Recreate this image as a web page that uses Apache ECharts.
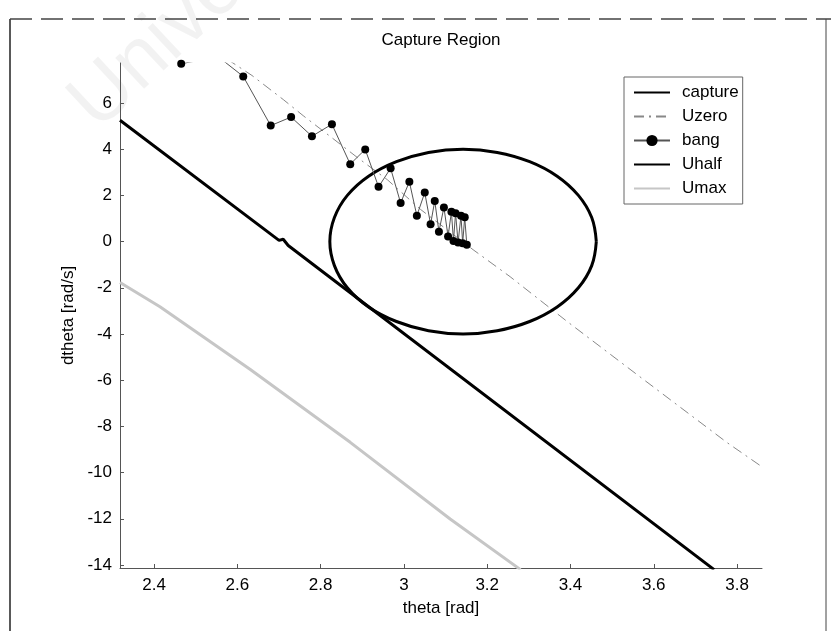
<!DOCTYPE html>
<html>
<head>
<meta charset="utf-8">
<script src="https://cdn.jsdelivr.net/npm/echarts@6/dist/echarts.min.js"></script>
<style>html,body{margin:0;padding:0;background:#fff}#c{width:831px;height:631px}</style>
</head>
<body>
<div id="c"></div>
<script>
const xTicks = [2.4, 2.6, 2.8, 3, 3.2, 3.4, 3.6, 3.8];
const yTicks = [-14, -12, -10, -8, -6, -4, -2, 0, 2, 4, 6];
const captureData = [[3.462,0],[3.451,1.04],[3.419,2.0],[3.368,2.83],[3.302,3.46],[3.224,3.86],[3.142,4.0],[3.059,3.86],[2.982,3.46],[2.915,2.83],[2.864,2.0],[2.833,1.04],[2.822,0],[2.833,-1.04],[2.864,-2.0],[2.915,-2.83],[2.982,-3.46],[3.059,-3.86],[3.142,-4.0],[3.224,-3.86],[3.302,-3.46],[3.368,-2.83],[3.419,-2.0],[3.451,-1.04],[3.462,0]];
const uzeroData = [[2.575,7.9],[2.635,7.19],[2.710,6.15],[2.758,5.45],[2.823,4.55],[2.888,3.64],[2.96,2.68],[3.04,1.39],[3.166,-0.35],[3.255,-1.52],[3.392,-3.46],[3.56,-5.76],[3.776,-8.7],[3.86,-9.75]];
const bangData = [[2.465,7.7],[2.510,7.85],[2.556,7.97],[2.614,7.15],[2.680,5.02],[2.729,5.39],[2.779,4.56],[2.827,5.08],[2.871,3.35],[2.907,3.99],[2.939,2.37],[2.968,3.17],[2.992,1.67],[3.013,2.59],[3.031,1.12],[3.050,2.12],[3.064,0.75],[3.074,1.76],[3.084,0.43],[3.096,1.48],[3.106,0.22],[3.114,1.29],[3.119,0.03],[3.124,1.23],[3.130,-0.04],[3.137,1.12],[3.141,-0.07],[3.146,1.05],[3.151,-0.14]];
const uhalfData = [[2.318,5.25],[2.700,0.05],[2.710,0.1],[2.722,-0.17],[3.745,-14.2]];
const umaxData = [[2.318,-1.77],[2.414,-2.82],[2.631,-5.54],[2.871,-8.69],[3.111,-12.01],[3.28,-14.2]];

const FONT = 'Liberation Sans, Arial, sans-serif';
const chart = echarts.init(document.getElementById('c'), null, {renderer: 'canvas'});
const axisCommon = {
  axisLine: {show: true, onZero: false, lineStyle: {color: '#555', width: 1}},
  axisTick: {show: true, inside: true, length: 4, lineStyle: {color: '#555'}},
  splitLine: {show: false},
  axisLabel: {color: '#000', fontSize: 17, fontFamily: FONT},
  nameTextStyle: {color: '#000', fontSize: 17, fontFamily: FONT}
};
const noSym = {opacity: 0};
chart.setOption({
  animation: false,
  backgroundColor: '#fff',
  grid: {left: 120, right: 69, top: 63, bottom: 63, containLabel: false},
  xAxis: Object.assign({}, axisCommon, {
    type: 'value', min: 2.318, max: 3.86,
    name: 'theta [rad]', nameLocation: 'middle', nameGap: 32,
    axisTick: Object.assign({}, axisCommon.axisTick, {customValues: xTicks}),
    axisLabel: Object.assign({}, axisCommon.axisLabel, {customValues: xTicks, margin: 9, formatter: v => String(v)})
  }),
  yAxis: Object.assign({}, axisCommon, {
    type: 'value', min: -14.13, max: 7.73,
    name: 'dtheta [rad/s]', nameLocation: 'middle', nameGap: 42,
    axisTick: Object.assign({}, axisCommon.axisTick, {customValues: yTicks}),
    axisLabel: Object.assign({}, axisCommon.axisLabel, {customValues: yTicks, margin: 8, formatter: v => String(v)})
  }),
  legend: {
    orient: 'vertical', left: 624, top: 77,
    padding: [7, 4, 7, 9], itemGap: 7, itemWidth: 36, itemHeight: 14,
    borderColor: '#666', borderWidth: 1, backgroundColor: '#fff',
    textStyle: {color: '#000', fontSize: 17, fontFamily: FONT, padding: [0, 0, 0, 7]},
    data: [
      {name: 'capture', itemStyle: noSym},
      {name: 'Uzero', itemStyle: noSym},
      {name: 'bang'},
      {name: 'Uhalf', itemStyle: noSym},
      {name: 'Umax', itemStyle: noSym}
    ]
  },
  graphic: [
    {type: 'text', x: 441, y: 40, style: {text: 'Capture Region', align: 'center', verticalAlign: 'middle', font: '17px ' + FONT, fill: '#000'}},
    {type: 'line', shape: {x1: 10, y1: 19, x2: 10, y2: 631}, style: {stroke: '#222', lineWidth: 1.5}},
    {type: 'line', shape: {x1: 826, y1: 19, x2: 826, y2: 631}, style: {stroke: '#444', lineWidth: 1}},
    {type: 'line', shape: {x1: 10, y1: 19, x2: 831, y2: 19}, style: {stroke: '#444', lineWidth: 1.5, lineDash: [22, 9]}},
    {type: 'text', x: 110, y: 145, rotation: 0.75, z: -1, style: {text: 'University', font: '80px ' + FONT, fill: 'rgba(0,0,0,0.05)', verticalAlign: 'bottom'}}
  ],
  series: [
    {name: 'capture', type: 'line', data: captureData, smooth: 0.4, symbol: 'none', z: 3,
     lineStyle: {color: '#000', width: 3}, itemStyle: {color: '#000'}},
    {name: 'Uzero', type: 'line', data: uzeroData, symbol: 'none', z: 2,
     lineStyle: {color: '#888', width: 1, type: [10, 5, 2, 5]}, itemStyle: {color: '#888'}},
    {name: 'bang', type: 'line', data: bangData, symbol: 'circle', symbolSize: 8, z: 5,
     lineStyle: {color: '#555', width: 1}, itemStyle: {color: '#000'}},
    {name: 'Uhalf', type: 'line', data: uhalfData, symbol: 'none', z: 4,
     lineStyle: {color: '#000', width: 3}, itemStyle: {color: '#000'}},
    {name: 'Umax', type: 'line', data: umaxData, symbol: 'none', z: 1,
     lineStyle: {color: '#c6c6c6', width: 3}, itemStyle: {color: '#c6c6c6'}}
  ]
});
</script>
</body>
</html>
